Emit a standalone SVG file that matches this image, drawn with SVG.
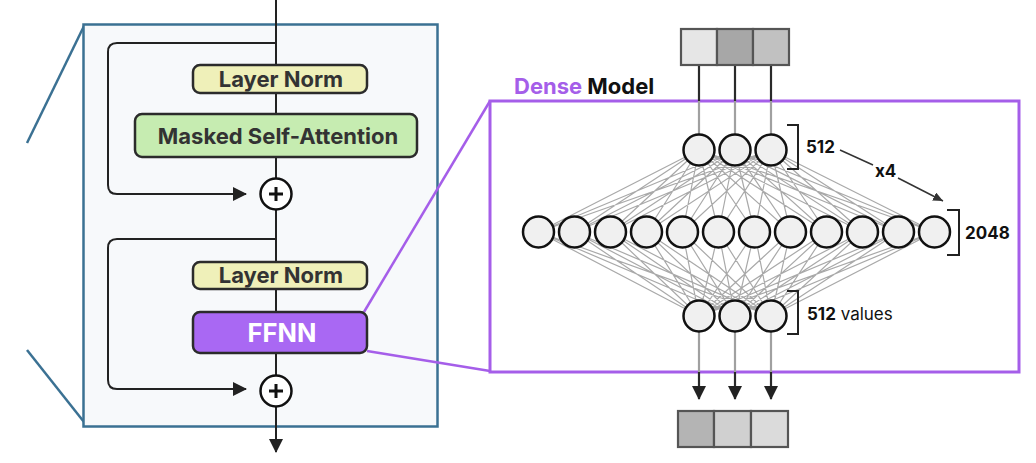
<svg xmlns="http://www.w3.org/2000/svg" width="1036" height="463" viewBox="0 0 1036 463">
<style>
.t{font-family:Inter,"Liberation Sans",Arial,sans-serif;font-weight:700}
.box{stroke:#2b2b2b;stroke-width:2.5}
.ln{fill:#eff0b9}
.msa{fill:#c6ecb1}
.ff{fill:#a968f3}
.neu{fill:#f0f0f0;stroke:#111;stroke-width:2.5}
.wire{stroke:#222;stroke-width:2;fill:none}
.mesh{stroke:#a9a9a9;stroke-width:1.2;fill:none}
.gl{stroke:#a0a0a0;stroke-width:2.2}
.bl{stroke:#2a2a2a;stroke-width:2.2}
.cell{stroke:#555;stroke-width:2.2}
.purp{stroke:#a55ee9;fill:none}
.blue{stroke:#3b7193}
</style>
<defs>
<marker id="arr" markerUnits="userSpaceOnUse" markerWidth="14" markerHeight="14" refX="13" refY="7" orient="auto" viewBox="0 0 14 14">
<path d="M0 0L14 7L0 14z" fill="#222"/>
</marker>
<marker id="arrS" markerUnits="userSpaceOnUse" markerWidth="10" markerHeight="9" refX="10" refY="4.5" orient="auto" viewBox="0 0 10 9">
<path d="M0 0L10 4.5L0 9z" fill="#333"/>
</marker>
</defs>
<rect width="1036" height="463" fill="#ffffff"/>

<g id="decoder-panel">
<line class="blue" x1="27" y1="143" x2="84" y2="26" stroke-width="2.5"/>
<line class="blue" x1="27" y1="350" x2="84" y2="422" stroke-width="2.5"/>
<rect class="blue" x="83.5" y="24.5" width="354" height="402" fill="#f7f9fb" stroke-width="2.5"/>
</g>

<g id="dense-model">
<line class="purp" x1="364" y1="312" x2="490" y2="101" stroke-width="2.5"/>
<line class="purp" x1="367" y1="351" x2="490" y2="371" stroke-width="2.5"/>
<rect class="purp" x="490" y="101" width="529" height="271" fill="#fcf8fc" stroke-width="3"/>
<text class="t" x="514" y="94" font-size="22"><tspan fill="#a55ee9">Dense</tspan><tspan fill="#111"> Model</tspan></text>
</g>

<g id="connectors">
<path class="wire" d="M276 0V452" marker-end="url(#arr)"/>
<path class="wire" d="M276 43H117Q108 43 108 52V185Q108 194 117 194H246" marker-end="url(#arr)"/>
<path class="wire" d="M276 239H117Q108 239 108 248V380Q108 389 117 389H246" marker-end="url(#arr)"/>
<path class="mesh" d="M699 150L538.5 232M699 150L574.5 232M699 150L610.5 232M699 150L646.5 232M699 150L682.5 232M699 150L718.5 232M699 150L754.5 232M699 150L790.5 232M699 150L826.5 232M699 150L862.5 232M699 150L898.5 232M699 150L934.5 232M735 150L538.5 232M735 150L574.5 232M735 150L610.5 232M735 150L646.5 232M735 150L682.5 232M735 150L718.5 232M735 150L754.5 232M735 150L790.5 232M735 150L826.5 232M735 150L862.5 232M735 150L898.5 232M735 150L934.5 232M771 150L538.5 232M771 150L574.5 232M771 150L610.5 232M771 150L646.5 232M771 150L682.5 232M771 150L718.5 232M771 150L754.5 232M771 150L790.5 232M771 150L826.5 232M771 150L862.5 232M771 150L898.5 232M771 150L934.5 232"/>
<path class="mesh" d="M699 316L538.5 232M699 316L574.5 232M699 316L610.5 232M699 316L646.5 232M699 316L682.5 232M699 316L718.5 232M699 316L754.5 232M699 316L790.5 232M699 316L826.5 232M699 316L862.5 232M699 316L898.5 232M699 316L934.5 232M735 316L538.5 232M735 316L574.5 232M735 316L610.5 232M735 316L646.5 232M735 316L682.5 232M735 316L718.5 232M735 316L754.5 232M735 316L790.5 232M735 316L826.5 232M735 316L862.5 232M735 316L898.5 232M735 316L934.5 232M771 316L538.5 232M771 316L574.5 232M771 316L610.5 232M771 316L646.5 232M771 316L682.5 232M771 316L718.5 232M771 316L754.5 232M771 316L790.5 232M771 316L826.5 232M771 316L862.5 232M771 316L898.5 232M771 316L934.5 232"/>
<path class="bl" d="M699 65V101M735 65V101M771 65V101"/>
<path class="gl" d="M699 101V135M735 101V135M771 101V135"/>
<path class="gl" d="M699 331V372M735 331V372M771 331V372"/>
<path class="bl" fill="none" d="M699 372V399" marker-end="url(#arr)"/>
<path class="bl" fill="none" d="M735 372V399" marker-end="url(#arr)"/>
<path class="bl" fill="none" d="M771 372V399" marker-end="url(#arr)"/>
<path stroke="#333" stroke-width="1.5" fill="none" d="M840 150L873 165"/>
<path stroke="#333" stroke-width="1.5" fill="none" d="M898 178L943 201" marker-end="url(#arrS)"/>
</g>

<g id="layer-norm-1">
<rect class="box ln" x="193" y="65" width="174" height="28" rx="7"/>
<text class="t" x="281" y="87" font-size="22" fill="#333" text-anchor="middle">Layer Norm</text>
</g>
<g id="masked-self-attention">
<rect class="box msa" x="135" y="114" width="282" height="43" rx="7"/>
<text class="t" x="278" y="144" font-size="22" fill="#333" text-anchor="middle">Masked Self-Attention</text>
</g>
<g id="add-1">
<circle cx="276" cy="194" r="15.5" fill="#fff" stroke="#111" stroke-width="2.5"/>
<path d="M269 194H283M276 187V201" stroke="#111" stroke-width="3"/>
</g>
<g id="layer-norm-2">
<rect class="box ln" x="193" y="262" width="174" height="27" rx="7"/>
<text class="t" x="281" y="283" font-size="22" fill="#333" text-anchor="middle">Layer Norm</text>
</g>
<g id="ffnn">
<rect class="box ff" x="193" y="312" width="174" height="41" rx="7"/>
<text class="t" x="282" y="342" font-size="25.5" fill="#fff" text-anchor="middle">FFNN</text>
</g>
<g id="add-2">
<circle cx="276" cy="391" r="15.5" fill="#fff" stroke="#111" stroke-width="2.5"/>
<path d="M269 391H283M276 384V398" stroke="#111" stroke-width="3"/>
</g>

<g id="input-vector">
<rect class="cell" x="681" y="29" width="36" height="36" fill="#e6e6e6"/>
<rect class="cell" x="717" y="29" width="36" height="36" fill="#a7a7a7"/>
<rect class="cell" x="753" y="29" width="36" height="36" fill="#c1c1c1"/>
</g>

<g id="input-layer">
<circle class="neu" cx="699" cy="150" r="15.5"/>
<circle class="neu" cx="735" cy="150" r="15.5"/>
<circle class="neu" cx="771" cy="150" r="15.5"/>
<path d="M787 125H798V169H787" fill="none" stroke="#222" stroke-width="2"/>
<text class="t" x="806" y="153" font-size="17" fill="#111">512</text>
<text class="t" x="875" y="177" font-size="17" fill="#111">x4</text>
</g>

<g id="hidden-layer">
<circle class="neu" cx="538.5" cy="232" r="15.5"/>
<circle class="neu" cx="574.5" cy="232" r="15.5"/>
<circle class="neu" cx="610.5" cy="232" r="15.5"/>
<circle class="neu" cx="646.5" cy="232" r="15.5"/>
<circle class="neu" cx="682.5" cy="232" r="15.5"/>
<circle class="neu" cx="718.5" cy="232" r="15.5"/>
<circle class="neu" cx="754.5" cy="232" r="15.5"/>
<circle class="neu" cx="790.5" cy="232" r="15.5"/>
<circle class="neu" cx="826.5" cy="232" r="15.5"/>
<circle class="neu" cx="862.5" cy="232" r="15.5"/>
<circle class="neu" cx="898.5" cy="232" r="15.5"/>
<circle class="neu" cx="934.5" cy="232" r="15.5"/>
<path d="M947 210H959V255H947" fill="none" stroke="#222" stroke-width="2"/>
<text class="t" x="965" y="239" font-size="17" fill="#111">2048</text>
</g>

<g id="output-layer">
<circle class="neu" cx="699" cy="316" r="15.5"/>
<circle class="neu" cx="735" cy="316" r="15.5"/>
<circle class="neu" cx="771" cy="316" r="15.5"/>
<path d="M787 291H798V334H787" fill="none" stroke="#222" stroke-width="2"/>
<text x="807" y="320" font-size="17" fill="#111" font-family="Inter,'Liberation Sans',Arial,sans-serif"><tspan font-weight="700">512</tspan> values</text>
</g>

<g id="output-vector">
<rect class="cell" x="678" y="411" width="36" height="36" fill="#b4b4b4"/>
<rect class="cell" x="714" y="411" width="37" height="36" fill="#d0d0d0"/>
<rect class="cell" x="751" y="411" width="37" height="36" fill="#dbdbdb"/>
</g>
</svg>
